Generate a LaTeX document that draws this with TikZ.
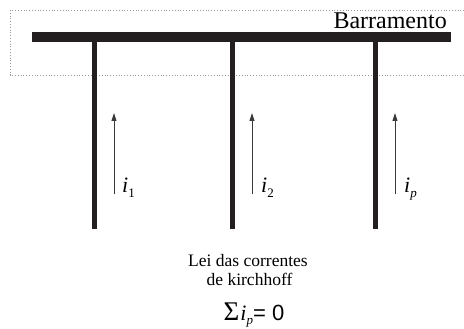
\documentclass[tikz,border=0pt]{standalone}
\usepackage{fontspec}
\setmainfont{Liberation Serif}
\newfontfamily\arialf{Liberation Sans}
\usetikzlibrary{arrows.meta}
\definecolor{barc}{HTML}{231F20}
\definecolor{arc}{HTML}{3A3A3A}
\newcommand{\subtxt}[1]{\raisebox{-4.5pt}{\fontsize{13}{13}\selectfont #1}}
\tikzset{
  busbar/.style={line width=9.5pt, barc},
  branch/.style={line width=5pt, barc},
  curarrow/.style={line width=1pt, arc, -{Triangle[length=8pt,width=5pt]}},
  curlabel/.style={inner sep=0pt, anchor=base west, font=\fontsize{22}{22}\selectfont},
  txt/.style={inner sep=0pt, anchor=base, font=\fontsize{17.5}{19.5}\selectfont}
}
\begin{document}
\begin{tikzpicture}[x=1pt,y=-1pt]
\useasboundingbox (0,0) rectangle (464,329);
\begin{scope}
\clip (0,0) rectangle (464,329);
\draw[gray!80, line width=0.8pt, dotted] (10,10) rectangle (480,75);
\end{scope}
\coordinate (busL) at (32,37);
\coordinate (busR) at (451,37);
\draw[busbar] (busL) -- (busR);
\node[inner sep=0pt, anchor=base east, font=\fontsize{24}{24}\selectfont] (barr) at (447,29) {Barramento};
\foreach \x/\n in {94.5/a,232/b,375/c}{
  \coordinate (\n top) at (\x,41);
  \coordinate (\n bot) at (\x,229);
  \draw[branch] (\n top) -- (\n bot);
}
\foreach \x/\n in {114/a,252/b,395/c}{
  \coordinate (\n s) at (\x,194);
  \coordinate (\n e) at (\x,113);
  \draw[curarrow] (\n s) -- (\n e);
}
\node[curlabel] (i1) at (122,193) {\textit{i}\subtxt{1}};
\node[curlabel] (i2) at (261,193) {\textit{i}\subtxt{2}};
\node[curlabel] (ip) at (404,193) {\textit{i}\subtxt{\textit{p}}};
\node[txt] (law1) at (248,266) {Lei das correntes};
\node[txt] (law2) at (249.5,285) {de kirchhoff};
\node[inner sep=0pt, anchor=base, font=\fontsize{22}{22}\selectfont] (sum) at (254,320) {{\fontsize{27}{27}\selectfont Σ}\kern1pt\textit{i}\subtxt{\textit{p}}\arialf{}= 0};
\end{tikzpicture}
\end{document}
